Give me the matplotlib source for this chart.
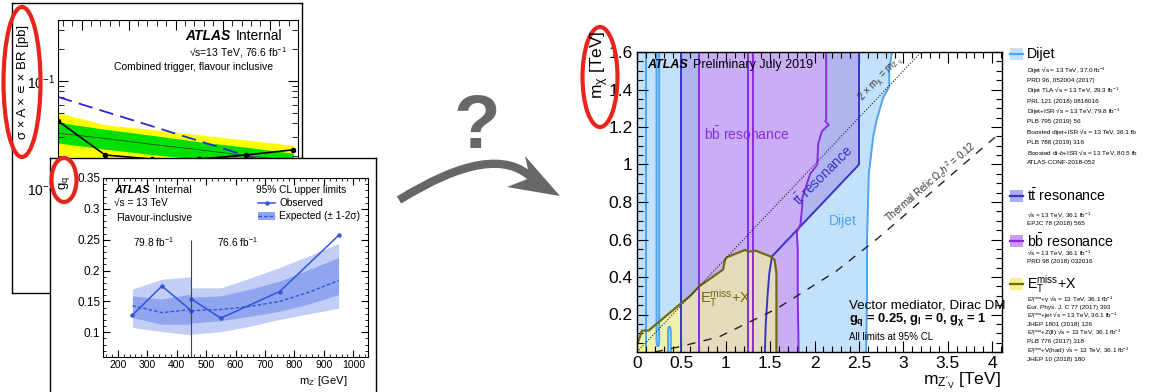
import numpy as np
import matplotlib
matplotlib.use("Agg")
import matplotlib.pyplot as plt
from matplotlib.patches import Ellipse, Polygon, Rectangle, PathPatch
from matplotlib.path import Path
from matplotlib.ticker import MultipleLocator, FuncFormatter, NullFormatter

plt.rcParams["font.family"] = ["Liberation Sans", "DejaVu Sans"]
plt.rcParams["mathtext.fontset"] = "custom"
plt.rcParams["mathtext.rm"] = "Liberation Sans"
plt.rcParams["mathtext.it"] = "Liberation Sans:italic"
plt.rcParams["mathtext.bf"] = "Liberation Sans:bold"

W, H = 1150, 392  # output size in px

# ── back panel: sigma x A x eps x BR vs mass (mostly hidden) ────────────────
back_m      = [450, 550, 650, 750, 850, 950]
back_obs    = [0.0422, 0.0203, 0.0186, 0.0186, 0.0203, 0.0227]
back_exp    = [0.0324, 0.0290, 0.0255, 0.0227, 0.0200, 0.0180]
back_1s_hi  = [0.0410, 0.0353, 0.0310, 0.0270, 0.0240, 0.0211]
back_1s_lo  = [0.0263, 0.0230, 0.0205, 0.0185, 0.0165, 0.0150]
back_2s_hi  = [0.0505, 0.0390, 0.0350, 0.0313, 0.0280, 0.0250]
back_2s_lo  = [0.0203, 0.0180, 0.0160, 0.0145, 0.0130, 0.0118]
back_theory = [0.0708, 0.0516, 0.0377, 0.0274, 0.0200, 0.0146]

# ── front panel: g_q limits ────────────────────────────────────────────────
gq_split = 450
gq_m_lo      = [250, 350, 450]
gq_obs_lo    = [0.128, 0.175, 0.135]
gq_exp_lo    = [0.143, 0.132, 0.137]
gq_1s_hi_lo  = [0.159, 0.154, 0.162]
gq_1s_lo_lo  = [0.124, 0.113, 0.113]
gq_2s_hi_lo  = [0.170, 0.186, 0.190]
gq_2s_lo_lo  = [0.108, 0.101, 0.096]

gq_m_hi      = [450, 550, 650, 750, 850, 950]
gq_exp_hi    = [0.135, 0.137, 0.142, 0.150, 0.165, 0.184]
gq_1s_hi_hi  = [0.157, 0.159, 0.170, 0.183, 0.202, 0.221]
gq_1s_lo_hi  = [0.115, 0.119, 0.126, 0.134, 0.146, 0.161]
gq_2s_hi_hi  = [0.172, 0.172, 0.188, 0.205, 0.224, 0.244]
gq_2s_lo_hi  = [0.097, 0.101, 0.110, 0.121, 0.130, 0.139]
gq_obs_m_hi  = [450, 550, 750, 950]
gq_obs_hi    = [0.154, 0.123, 0.166, 0.257]

# ── summary plot: m_chi vs m_Z' exclusion contours ─────────────────────────
dijet_bx = [2.58, 2.59, 2.59, 2.61, 2.66, 2.70, 2.77, 2.84, 2.84, 2.87]
dijet_by = [0.00, 0.30, 0.60, 0.95, 1.15, 1.24, 1.355, 1.415, 1.50, 1.60]
dijet_line_a_x = [0.105, 0.105]
dijet_line_a_y = [0.0, 1.6]
dijet_loop_b_x = [0.22, 0.22, 0.225, 0.235, 0.245, 0.25, 0.25]
dijet_loop_b_y = [1.6, 0.06, 0.035, 0.03, 0.035, 0.06, 1.6]
dijet_loop_c_x = [0.35, 0.35, 0.355, 0.365, 0.375, 0.38, 0.38]
dijet_loop_c_y = [0.0, 0.11, 0.13, 0.135, 0.13, 0.11, 0.0]

tt_left = 0.5
tt_bx = [1.44, 1.45, 1.47, 1.49, 1.52, 2.50, 2.50]
tt_by = [0.00, 0.15, 0.30, 0.42, 0.51, 1.00, 1.60]

bb_left = 0.70
bb_bx = [1.82, 1.81, 1.81, 1.80, 1.84, 1.86, 1.86, 1.95, 2.03, 2.04, 2.08, 2.13, 2.16, 2.12, 2.13, 2.13]
bb_by = [0.00, 0.30, 0.55, 0.64, 0.68, 0.775, 0.82, 0.95, 1.00, 1.11, 1.175, 1.20, 1.21, 1.23, 1.24, 1.60]
bb_inner = [1.25, 1.31]

et_x = [0.0, 0.02, 0.056, 0.13, 0.51, 0.60, 0.70, 0.85, 0.97, 0.99, 1.01, 1.22, 1.25, 1.34, 1.50, 1.55, 1.57, 1.57]
et_y = [0.04, 0.064, 0.114, 0.114, 0.265, 0.30, 0.35, 0.40, 0.44, 0.49, 0.505, 0.545, 0.535, 0.54, 0.51, 0.49, 0.42, 0.0]

kin_x = [0.0, 3.2]
kin_y = [0.0, 1.6]
therm_x = [0.20, 0.47, 0.92, 1.57, 2.24, 2.72, 4.06]
therm_y = [0.00, 0.027, 0.08, 0.23, 0.43, 0.61, 1.157]

DIJET_FILL, DIJET_LINE = "#c4e1fb", "#4aa5f2"
TT_FILL, TT_LINE = "#b1b4ef", "#3535c8"
BB_FILL, BB_LINE = "#c9aef6", "#8a2be2"
ET_FILL, ET_FILL_LOW, ET_LINE = "#e4dcbd", "#eef2aa", "#6f6b12"
RED = "#e8251c"
GREY = "#676767"

TTBAR = r"$\mathrm{t\bar{t}}$"
BBBAR = r"$\mathrm{b\bar{b}}$"
ETMISS = r"$\mathrm{E_{T}^{miss}}$"

# legend on the right (pixel rows)
leg_big = [("Dijet", 54, DIJET_FILL, DIJET_LINE),
           (TTBAR + " resonance", 196, "#a9acef", TT_LINE),
           (BBBAR + " resonance", 241, "#c39ef2", BB_LINE),
           (ETMISS + "+X", 284, "#f5f28a", ET_LINE)]
leg_small = [
    ("Dijet √s = 13 TeV, 37.0 fb$^{-1}$", 71),
    ("PRD 96, 052004 (2017)", 80),
    ("Dijet TLA √s = 13 TeV, 29.3 fb$^{-1}$", 91),
    ("PRL 121 (2018) 0818016", 101),
    ("Dijet+ISR √s = 13 TeV, 79.8 fb$^{-1}$", 112),
    ("PLB 795 (2019) 56", 121),
    ("Boosted dijet+ISR √s = 13 TeV, 36.1 fb", 132),
    ("PLB 788 (2019) 316", 142),
    ("Boosted di-$b$+ISR √s = 13 TeV, 80.5 fb", 153),
    ("ATLAS-CONF-2018-052", 162),
    ("√s = 13 TeV, 36.1 fb$^{-1}$", 215),
    ("EPJC 78 (2018) 565", 223),
    ("√s = 13 TeV, 36.1 fb$^{-1}$", 253),
    ("PRD 98 (2018) 032016", 261),
    (ETMISS + "+γ √s = 13 TeV, 36.1 fb$^{-1}$", 299.5),
    ("Eur. Phys. J. C 77 (2017) 393", 307.5),
    (ETMISS + "+jet √s = 13 TeV, 36.1 fb$^{-1}$", 316),
    ("JHEP 1801 (2018) 126", 324.5),
    (ETMISS + "+Z(ll) √s = 13 TeV, 36.1 fb$^{-1}$", 333),
    ("PLB 776 (2017) 318", 341.5),
    (ETMISS + "+V(had) √s = 13 TeV, 36.1 fb$^{-1}$", 350.5),
    ("JHEP 10 (2018) 180", 359),
]


def box(x0, y0, x1, y1):
    """pixel rect (top-left origin) -> figure fraction rect"""
    return [x0 / W, 1 - y1 / H, (x1 - x0) / W, (y1 - y0) / H]


def frame(x0, y0, x1, y1, z):
    a = fig.add_axes(box(x0, y0, x1, y1), zorder=z)
    a.set_xticks([]); a.set_yticks([])
    for s in a.spines.values():
        s.set_linewidth(1.0)
    return a


gfmt = FuncFormatter(lambda v, p: f"{v:g}")

fig = plt.figure(figsize=(W / 100, H / 100), dpi=100)

# ── back panel ──────────────────────────────────────────────────────────────
frame(12, 3, 302, 293, 1)
axb = fig.add_axes(box(58, 20, 298, 290), zorder=2)
axb.set_yscale("log")
axb.set_xlim(450, 960)
axb.set_ylim(0.00111, 0.371)
axb.fill_between(back_m, back_2s_lo, back_2s_hi, color="#ffff00", lw=0)
axb.fill_between(back_m, back_1s_lo, back_1s_hi, color="#00e000", lw=0)
axb.plot(back_m, back_exp, color="#333333", lw=0.5)
axb.plot(back_m, back_theory, color="#2a2ad8", lw=1.3, ls=(0, (8, 4)))
axb.plot(back_m, back_obs, color="k", lw=1.2, marker="o", ms=3)
axb.xaxis.set_major_locator(MultipleLocator(100))
axb.xaxis.set_minor_locator(MultipleLocator(20))
axb.tick_params(which="both", direction="in", top=True, right=True,
                labelbottom=False, labelsize=10, pad=2)
axb.tick_params(which="major", length=7)
axb.tick_params(which="minor", length=4)
axb.yaxis.set_minor_formatter(NullFormatter())
axb.text(0.53, 0.941, "ATLAS", transform=axb.transAxes, va="center",
         fontsize=10, fontweight="bold", fontstyle="italic")
axb.text(0.74, 0.941, "Internal", transform=axb.transAxes, va="center", fontsize=10)
axb.text(0.955, 0.881, "√s=13 TeV, 76.6 fb$^{-1}$", transform=axb.transAxes,
         ha="right", va="center", fontsize=7.5)
axb.text(0.895, 0.826, "Combined trigger, flavour inclusive", transform=axb.transAxes,
         ha="right", va="center", fontsize=7.5)

# ── front panel ─────────────────────────────────────────────────────────────
frame(50, 158, 376, 400, 3)
axf = fig.add_axes(box(103, 178, 368, 357), zorder=4)
axf.set_xlim(150, 1050)
axf.set_ylim(0.06, 0.35)
LIGHT, DARK, BLUE = "#c3cef6", "#90a5ee", "#2f55dd"
for m, lo2, hi2, lo1, hi1, ex in [
        (gq_m_lo, gq_2s_lo_lo, gq_2s_hi_lo, gq_1s_lo_lo, gq_1s_hi_lo, gq_exp_lo),
        (gq_m_hi, gq_2s_lo_hi, gq_2s_hi_hi, gq_1s_lo_hi, gq_1s_hi_hi, gq_exp_hi)]:
    axf.fill_between(m, lo2, hi2, color=LIGHT, lw=0)
    axf.fill_between(m, lo1, hi1, color=DARK, lw=0)
    axf.plot(m, ex, color=BLUE, lw=1.0, ls=(0, (2.5, 1.5)))
axf.plot(gq_m_lo, gq_obs_lo, color=BLUE, lw=1.1, marker="o", ms=2.2)
axf.plot(gq_obs_m_hi, gq_obs_hi, color=BLUE, lw=1.1, marker="o", ms=2.2)
axf.vlines(gq_split, 0.06, 0.25, color="#444444", lw=0.8)
axf.xaxis.set_major_locator(MultipleLocator(100))
axf.xaxis.set_minor_locator(MultipleLocator(20))
axf.yaxis.set_major_locator(MultipleLocator(0.05))
axf.yaxis.set_minor_locator(MultipleLocator(0.01))
axf.xaxis.set_major_formatter(gfmt)
axf.yaxis.set_major_formatter(gfmt)
axf.tick_params(which="both", direction="in", top=True, right=True, pad=2)
axf.tick_params(axis="x", labelsize=7.5)
axf.tick_params(axis="y", labelsize=8.5)
axf.tick_params(which="major", length=5)
axf.tick_params(which="minor", length=2.5)
FS = 7.3
axf.text(187, 0.331, "ATLAS", fontsize=FS + 0.5, fontweight="bold", fontstyle="italic", va="center")
axf.text(325, 0.331, "Internal", fontsize=FS + 0.5, va="center")
axf.text(187, 0.310, "√s = 13 TeV", fontsize=FS, va="center")
axf.text(195, 0.286, "Flavour-inclusive", fontsize=FS, va="center")
axf.text(252, 0.246, "79.8 fb$^{-1}$", fontsize=FS, va="center")
axf.text(538, 0.246, "76.6 fb$^{-1}$", fontsize=FS, va="center")
axf.text(670, 0.331, "95% CL upper limits", fontsize=FS, va="center")
axf.plot([678, 735], [0.310, 0.310], color=BLUE, lw=1.1)
axf.plot([706], [0.310], color=BLUE, marker="o", ms=2.2)
axf.text(749, 0.310, "Observed", fontsize=FS, va="center")
axf.add_patch(Rectangle((678, 0.2815), 57, 0.013, color=DARK, lw=0))
axf.plot([678, 735], [0.288, 0.288], color=BLUE, lw=1.0, ls=(0, (2.5, 1.5)))
axf.text(749, 0.288, "Expected (± 1-2σ)", fontsize=FS, va="center")

# ── main summary plot ───────────────────────────────────────────────────────
ax = fig.add_axes(box(637, 52, 1002, 352), zorder=2)
ax.set_xlim(0, 4.11)
ax.set_ylim(0, 1.6)
ax.fill_betweenx(dijet_by, 0, dijet_bx, color=DIJET_FILL, lw=0, zorder=1)
ax.fill_betweenx(tt_by, tt_left, tt_bx, color=TT_FILL, lw=0, zorder=1.1)
ax.fill_betweenx(bb_by, bb_left, bb_bx, color=BB_FILL, lw=0, zorder=1.2)
et_poly = [(0.0, 0.0)] + list(zip(et_x, et_y))
ax.add_patch(Polygon(et_poly, closed=True, fc=ET_FILL, ec="none", zorder=1.3))
low = Polygon(et_poly, closed=True, fc=ET_FILL_LOW, ec="none", zorder=1.35)
ax.add_patch(low)
low.set_clip_path(Rectangle((0, 0), tt_left, 1.6, transform=ax.transData))

ax.plot(dijet_bx, dijet_by, color=DIJET_LINE, lw=1.4, zorder=1.5)
ax.plot(dijet_line_a_x, dijet_line_a_y, color=DIJET_LINE, lw=1.4, zorder=1.5)
ax.plot(dijet_loop_b_x, dijet_loop_b_y, color=DIJET_LINE, lw=1.4, zorder=1.5)
ax.plot(dijet_loop_c_x, dijet_loop_c_y, color=DIJET_LINE, lw=1.4, zorder=1.5)
ax.axvline(tt_left, color=TT_LINE, lw=1.4, zorder=1.6)
ax.plot(tt_bx, tt_by, color=TT_LINE, lw=1.4, zorder=1.6)
ax.axvline(bb_left, color=BB_LINE, lw=1.4, zorder=1.7)
for xb in bb_inner:
    ax.axvline(xb, color=BB_LINE, lw=1.4, zorder=1.7)
ax.plot(bb_bx, bb_by, color=BB_LINE, lw=1.4, zorder=1.7)
ax.plot(et_x, et_y, color=ET_LINE, lw=1.6, zorder=1.9)
ax.plot(kin_x, kin_y, color="#222222", lw=0.8, ls=(0, (1, 1.5)), zorder=2)
ax.plot(therm_x, therm_y, color="#222222", lw=1.0, ls=(0, (6, 6)), zorder=2)

ax.text(0.11, 1.53, "ATLAS", fontsize=9, fontweight="bold", fontstyle="italic", va="center", zorder=3)
ax.text(0.63, 1.53, "Preliminary July 2019", fontsize=9, va="center", zorder=3)
ax.text(1.24, 1.16, BBBAR + " resonance", color=BB_LINE, fontsize=10,
        ha="center", va="center", zorder=3)
ax.text(2.10, 0.94, TTBAR + " resonance", color=TT_LINE, fontsize=10,
        ha="center", va="center", rotation=45, zorder=3)
ax.text(2.32, 0.70, "Dijet", color=DIJET_LINE, fontsize=10, ha="center", va="center", zorder=3)
ax.text(1.0, 0.29, ETMISS + "+X", color=ET_LINE, fontsize=10.5,
        ha="center", va="center", zorder=3)
ax.text(2.82, 1.425, r"2 $\times$ $\mathrm{m_{\chi}}$ = $\mathrm{m_{Z'_{V}}}$", fontsize=7,
        rotation=46.5, rotation_mode="anchor", ha="center", va="bottom", color="#333333", zorder=3)
ax.text(3.36, 0.875, r"Thermal Relic $\Omega_{c}h^{2}$ = 0.12", fontsize=7,
        rotation=40.8, rotation_mode="anchor", ha="center", va="bottom", color="#333333", zorder=3)
ax.text(2.39, 0.25, "Vector mediator, Dirac DM", fontsize=9.6, va="center", zorder=3)
ax.text(2.39, 0.172, r"$\mathbf{g_{q}}$ = 0.25, $\mathbf{g_{l}}$ = 0, $\mathbf{g_{\chi}}$ = 1",
        fontsize=9.3, fontweight="bold", va="center", zorder=3)
ax.text(2.39, 0.08, "All limits at 95% CL", fontsize=7, va="center", zorder=3)

ax.xaxis.set_major_locator(MultipleLocator(0.5))
ax.xaxis.set_minor_locator(MultipleLocator(0.1))
ax.yaxis.set_major_locator(MultipleLocator(0.2))
ax.yaxis.set_minor_locator(MultipleLocator(0.05))
ax.xaxis.set_major_formatter(gfmt)
ax.yaxis.set_major_formatter(FuncFormatter(lambda v, p: "" if v == 0 else f"{v:g}"))
ax.tick_params(which="both", direction="in", top=True, right=True, labelsize=12.5, pad=3)
ax.tick_params(which="major", length=8, width=0.8)
ax.tick_params(which="minor", length=4, width=0.8)
for s in ax.spines.values():
    s.set_linewidth(1.0)
    s.set_zorder(4)

# ── overlay in pixel coords: labels, legend, arrow, ellipses ───────────────
ov = fig.add_axes([0, 0, 1, 1], zorder=10)
ov.set_xlim(0, W); ov.set_ylim(H, 0)
ov.axis("off"); ov.patch.set_alpha(0)

ov.text(23, 82, "σ × A × ∊ × BR [pb]", rotation=90, ha="center", va="center", fontsize=9.5)
ov.text(64, 183, r"$\mathrm{g_{q}}$", rotation=90, ha="center", va="center", fontsize=9.5)
ov.text(348, 381, r"$\mathrm{m_{Z'}}$ [GeV]", ha="right", va="center", fontsize=8)
ov.text(600, 30, r"$\mathrm{m_{\chi}}$ [TeV]", rotation=90, ha="center", va="top", fontsize=12.5)
ov.text(1001, 381, r"$\mathrm{m_{Z'_{V}}}$ [TeV]", ha="right", va="center", fontsize=12.5)

for label, yy, fc, lc in leg_big:
    ov.add_patch(Rectangle((1010, yy - 6), 13, 12, fc=fc, ec="none"))
    ov.plot([1010, 1023], [yy, yy], color=lc, lw=1.6)
    ov.text(1027, yy, label, fontsize=10.2, va="center")
for label, yy in leg_small:
    ov.text(1027, yy, label, fontsize=4.6, va="center")

# question mark + curved arrow
ov.text(477, 148, "?", fontsize=55, fontweight="bold", color=GREY, ha="center", va="baseline")
shaft = Path([(399, 200), (494, 141), (532, 178)], [Path.MOVETO, Path.CURVE3, Path.CURVE3])
ov.add_patch(PathPatch(shaft, fc="none", ec=GREY, lw=6, capstyle="butt"))
ov.add_patch(Polygon([(560, 196), (525, 156), (530, 178), (507, 187)], closed=True,
                     fc=GREY, ec="none"))

# red ellipses
for cx, cy, ew, eh in [(22, 82, 37, 150), (64, 180, 25, 44), (600, 77, 35, 100)]:
    ov.add_patch(Ellipse((cx, cy), ew, eh, fc="none", ec=RED, lw=3))

fig.savefig("out.png", dpi=100)
